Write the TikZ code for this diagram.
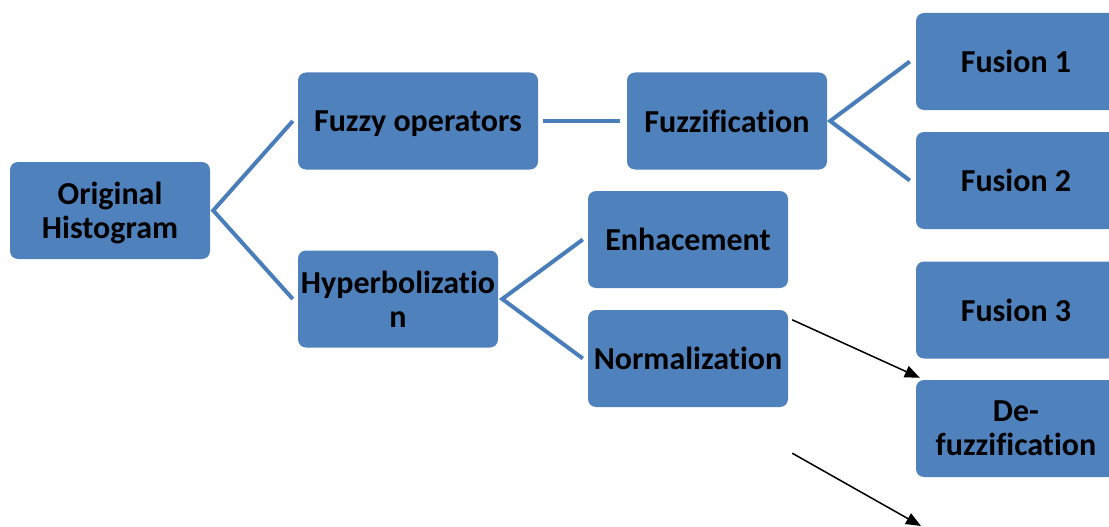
\documentclass[tikz,border=0pt]{standalone}
\usepackage{fontspec}
\setmainfont[Ligatures=NoCommon]{Carlito}
\usetikzlibrary{calc,arrows.meta}
\definecolor{boxblue}{HTML}{4F81BD}
\definecolor{linkblue}{HTML}{4A7EBB}
\tikzset{
  stepbox/.style={rectangle, rounded corners=8pt, fill=boxblue, draw=none,
    minimum width=200pt, minimum height=97pt, inner sep=2pt, align=center,
    text depth=0pt,
    font=\fontsize{32}{34}\selectfont\bfseries, text=black},
  link/.style={draw=linkblue, line width=4pt},
  flow/.style={draw=black, line width=1.5pt, -{Triangle[length=15pt,width=12pt]}}
}
\begin{document}
\begin{tikzpicture}[x=1pt,y=-1pt]
  \useasboundingbox (0,0) rectangle (1109,527);
  \clip (0,0) rectangle (1109,527);

  % boxes
  \node[stepbox] (orig) at (110,210.5) {Original\\Histogram};
  \node[stepbox, minimum width=240pt] (fuzzy) at (418,121) {Fuzzy operators};
  \node[stepbox] (fuzzif) at (727,121) {Fuzzification};
  \node[stepbox] (fus1) at (1016,61.5) {Fusion 1};
  \node[stepbox] (fus2) at (1016,180.5) {Fusion 2};
  \node[stepbox] (hyper) at (398,299) {Hyperbolizatio\\n};
  \node[stepbox] (enh) at (688,239.5) {Enhacement};
  \node[stepbox] (norm) at (688,358.5) {Normalization};
  \node[stepbox] (fus3) at (1016,310) {Fusion 3};
  \node[stepbox] (defuz) at (1016,428.5) {De-\\fuzzification};

  % tree links
  \draw[link] ($(fuzzy.west)+(-5,0)$) -- ($(orig.east)+(3,0)$) -- ($(hyper.west)+(-5,0)$);
  \draw[link] ($(fuzzy.east)+(5,0)$) -- ($(fuzzif.west)+(-7,0)$);
  \draw[link] ($(fus1.west)+(-6,0)$) -- ($(fuzzif.east)+(3,0)$) -- ($(fus2.west)+(-6,0)$);
  \draw[link] ($(enh.west)+(-5,0)$) -- ($(hyper.east)+(4,0)$) -- ($(norm.west)+(-5,0)$);

  % arrows
  \coordinate (lowstart) at ($(norm.south east)+(4,46)$);
  \coordinate (lowend) at (921,526);
  \draw[flow] ($(norm.north east)+(4,10)$) -- ($(defuz.north west)+(4,-2)$);
  \draw[flow] (lowstart) -- (lowend);
\end{tikzpicture}
\end{document}
